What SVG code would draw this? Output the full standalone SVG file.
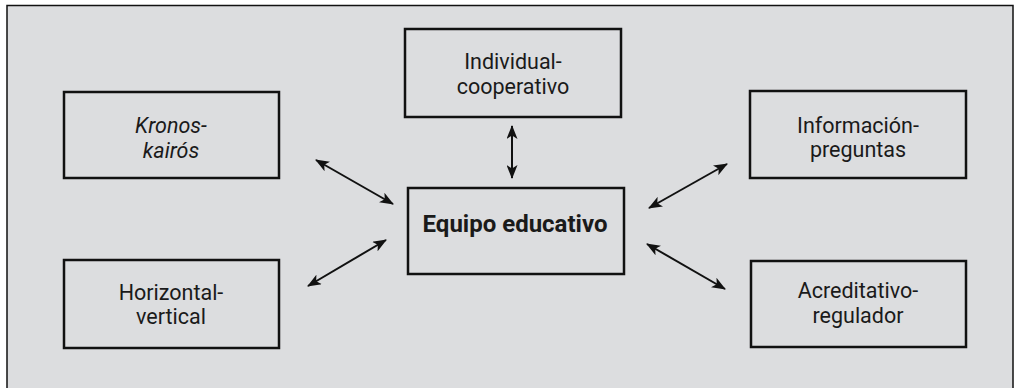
<svg xmlns="http://www.w3.org/2000/svg" width="1020" height="388" viewBox="0 0 1020 388">
<style>
.box{fill:none;stroke:#111;stroke-width:2.5}
.t{font-family:Roboto,"Liberation Sans",sans-serif;font-size:21.5px;fill:#1a1a1a;text-anchor:middle}
.b{font-weight:bold;font-size:24px}
.c{stroke:#111;stroke-width:2;fill:none;marker-start:url(#ah);marker-end:url(#ah)}
</style>
<defs>
<marker id="ah" viewBox="0 0 14 11" refX="13" refY="5.5" markerWidth="14" markerHeight="11" markerUnits="userSpaceOnUse" orient="auto-start-reverse">
<path d="M0,0 L14,5.5 L0,11 L3.5,5.5 Z" fill="#111"/>
</marker>
</defs>
<rect x="0" y="0" width="1020" height="388" fill="#fff"/>
<path d="M7,388 V5.5 H1013 V388" fill="#dcdddf" stroke="#111" stroke-width="1.5"/>
<g id="connectors">
<line class="c" x1="316" y1="160" x2="393" y2="204"/>
<line class="c" x1="386" y1="240" x2="308" y2="286"/>
<line class="c" x1="727" y1="164" x2="649" y2="208"/>
<line class="c" x1="647" y1="244" x2="725" y2="289"/>
<line class="c" x1="512" y1="126" x2="512" y2="178"/>
</g>
<g id="kronos">
<rect class="box" x="64" y="92" width="215" height="86"/>
<text class="t" font-style="italic" x="171" y="133">Kronos-</text>
<text class="t" font-style="italic" x="171" y="158">kairós</text>
</g>
<g id="individual">
<rect class="box" x="405" y="29" width="216" height="88"/>
<text class="t" x="513" y="69">Individual-</text>
<text class="t" x="513" y="94">cooperativo</text>
</g>
<g id="informacion">
<rect class="box" x="750" y="91" width="216" height="87"/>
<text class="t" x="858" y="133">Información-</text>
<text class="t" x="858" y="157">preguntas</text>
</g>
<g id="horizontal">
<rect class="box" x="64" y="260" width="215" height="88"/>
<text class="t" x="171" y="300">Horizontal-</text>
<text class="t" x="171" y="324">vertical</text>
</g>
<g id="acreditativo">
<rect class="box" x="751" y="261" width="215" height="86"/>
<text class="t" x="858" y="298">Acreditativo-</text>
<text class="t" x="858" y="323">regulador</text>
</g>
<g id="equipo">
<rect class="box" x="408" y="188" width="216" height="86"/>
<text class="t b" x="515" y="232">Equipo educativo</text>
</g>
</svg>
